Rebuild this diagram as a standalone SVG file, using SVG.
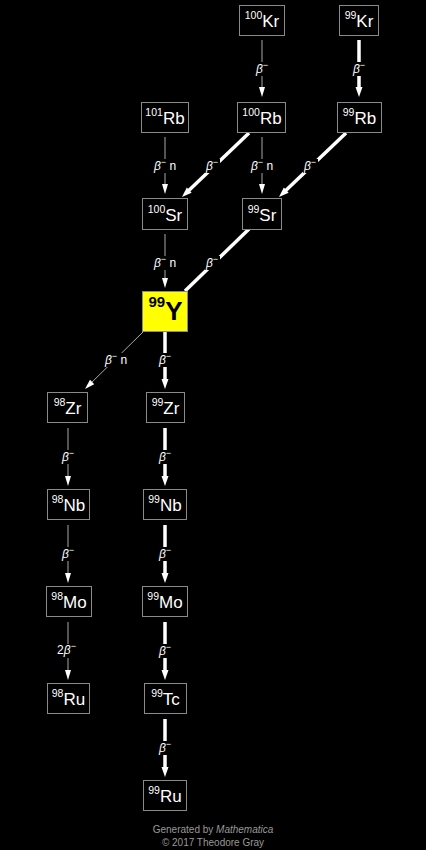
<svg xmlns="http://www.w3.org/2000/svg" width="426" height="850" viewBox="0 0 426 850">
<style>
.bg{fill:#000}
.box{fill:#000;stroke:#8a8a8a;stroke-width:1}
.ybox{fill:#ffff00;stroke:#8a8a8a;stroke-width:1}
.nt{font-family:"Liberation Sans",Arial,sans-serif;fill:#fff;text-anchor:middle}
.sup{font-size:10.5px}
.sym{font-size:17px}
.thin{stroke:#a8a8a8;stroke-width:1;fill:none;marker-end:url(#ah1)}
.thick{stroke:#fff;stroke-width:3.5;fill:none;marker-end:url(#ah2)}
.lbg{fill:#000}
.lt{font-family:"Liberation Sans",Arial,sans-serif;font-size:12px;fill:#fff;text-anchor:middle}
.ft{font-family:"Liberation Sans",Arial,sans-serif;font-size:10px;fill:#999;text-anchor:middle}
</style>
<defs>
<marker id="ah1" markerUnits="userSpaceOnUse" markerWidth="12" markerHeight="8" refX="1" refY="3" orient="auto" overflow="visible"><path d="M0,0 L10,3 L0,6 z" fill="#fff"/></marker>
<marker id="ah2" markerUnits="userSpaceOnUse" markerWidth="12" markerHeight="8" refX="1" refY="3.5" orient="auto" overflow="visible"><path d="M0,0 L10,3.5 L0,7 z" fill="#fff"/></marker>
</defs>
<rect class="bg" x="0" y="0" width="426" height="850"/>
<g id="connectors">
<line class="thin" x1="262" y1="40" x2="262" y2="88"/>
<line class="thick" x1="359" y1="40" x2="359" y2="88"/>
<line class="thin" x1="165" y1="137" x2="165" y2="185"/>
<line class="thick" x1="249" y1="133" x2="188.5" y2="190.8"/>
<line class="thin" x1="262" y1="137" x2="262" y2="185"/>
<line class="thick" x1="346" y1="133" x2="285.5" y2="190.8"/>
<line class="thin" x1="165" y1="234" x2="165" y2="279"/>
<line stroke="#fff" stroke-width="3.5" x1="249" y1="229" x2="185" y2="291"/>
<line class="thin" x1="143" y1="332" x2="91.4" y2="382.7"/>
<line class="thick" x1="165" y1="331" x2="165" y2="380"/>
<line class="thin" x1="68" y1="428" x2="68" y2="477"/>
<line class="thick" x1="165" y1="428" x2="165" y2="477"/>
<line class="thin" x1="68" y1="525" x2="68" y2="574"/>
<line class="thick" x1="165" y1="525" x2="165" y2="574"/>
<line class="thin" x1="68" y1="622" x2="68" y2="671"/>
<line class="thick" x1="165" y1="622" x2="165" y2="671"/>
<line class="thick" x1="165" y1="719" x2="165" y2="768"/>
<rect class="lbg" x="255" y="62" width="14" height="14"/>
<text class="lt" x="262" y="72.5"><tspan font-style="italic">β</tspan><tspan font-size="9" dy="-5">−</tspan></text>
<rect class="lbg" x="352" y="62" width="14" height="14"/>
<text class="lt" x="359" y="72.5"><tspan font-style="italic">β</tspan><tspan font-size="9" dy="-5">−</tspan></text>
<rect class="lbg" x="154" y="159" width="22" height="14"/>
<text class="lt" x="165" y="169.5"><tspan font-style="italic">β</tspan><tspan font-size="9" dy="-5">−</tspan><tspan dy="5"> n</tspan></text>
<rect class="lbg" x="205" y="159" width="15" height="14"/>
<text class="lt" x="212" y="169.5"><tspan font-style="italic">β</tspan><tspan font-size="9" dy="-5">−</tspan></text>
<rect class="lbg" x="251" y="159" width="22" height="14"/>
<text class="lt" x="262" y="169.5"><tspan font-style="italic">β</tspan><tspan font-size="9" dy="-5">−</tspan><tspan dy="5"> n</tspan></text>
<rect class="lbg" x="303" y="159" width="15" height="14"/>
<text class="lt" x="310" y="169.5"><tspan font-style="italic">β</tspan><tspan font-size="9" dy="-5">−</tspan></text>
<rect class="lbg" x="154" y="256" width="22" height="14"/>
<text class="lt" x="165" y="266.5"><tspan font-style="italic">β</tspan><tspan font-size="9" dy="-5">−</tspan><tspan dy="5"> n</tspan></text>
<rect class="lbg" x="205" y="256" width="15" height="14"/>
<text class="lt" x="212" y="266.5"><tspan font-style="italic">β</tspan><tspan font-size="9" dy="-5">−</tspan></text>
<rect class="lbg" x="104" y="353" width="24" height="14"/>
<text class="lt" x="116" y="363.5"><tspan font-style="italic">β</tspan><tspan font-size="9" dy="-5">−</tspan><tspan dy="5"> n</tspan></text>
<rect class="lbg" x="158" y="353" width="14" height="14"/>
<text class="lt" x="165" y="363.5"><tspan font-style="italic">β</tspan><tspan font-size="9" dy="-5">−</tspan></text>
<rect class="lbg" x="61" y="450" width="14" height="14"/>
<text class="lt" x="68" y="460.5"><tspan font-style="italic">β</tspan><tspan font-size="9" dy="-5">−</tspan></text>
<rect class="lbg" x="158" y="450" width="14" height="14"/>
<text class="lt" x="165" y="460.5"><tspan font-style="italic">β</tspan><tspan font-size="9" dy="-5">−</tspan></text>
<rect class="lbg" x="61" y="547" width="14" height="14"/>
<text class="lt" x="68" y="557.5"><tspan font-style="italic">β</tspan><tspan font-size="9" dy="-5">−</tspan></text>
<rect class="lbg" x="158" y="547" width="14" height="14"/>
<text class="lt" x="165" y="557.5"><tspan font-style="italic">β</tspan><tspan font-size="9" dy="-5">−</tspan></text>
<rect class="lbg" x="56" y="644" width="22" height="14"/>
<text class="lt" x="66.5" y="653.5">2<tspan font-style="italic">β</tspan><tspan font-size="9" dy="-5">−</tspan></text>
<rect class="lbg" x="158" y="644" width="14" height="14"/>
<text class="lt" x="165" y="654.5"><tspan font-style="italic">β</tspan><tspan font-size="9" dy="-5">−</tspan></text>
<rect class="lbg" x="158" y="741" width="14" height="14"/>
<text class="lt" x="165" y="751.5"><tspan font-style="italic">β</tspan><tspan font-size="9" dy="-5">−</tspan></text>
</g>
<g id="Kr100"><rect class="box" x="239.5" y="5.5" width="45" height="30"/><text class="nt" x="262" y="27"><tspan class="sup" dy="-8">100</tspan><tspan class="sym" dy="8">Kr</tspan></text></g>
<g id="Kr99"><rect class="box" x="339.5" y="5.5" width="39" height="30"/><text class="nt" x="359" y="27"><tspan class="sup" dy="-8">99</tspan><tspan class="sym" dy="8">Kr</tspan></text></g>
<g id="Rb101"><rect class="box" x="141.5" y="102.5" width="47" height="30"/><text class="nt" x="165" y="124"><tspan class="sup" dy="-8">101</tspan><tspan class="sym" dy="8">Rb</tspan></text></g>
<g id="Rb100"><rect class="box" x="237.5" y="102.5" width="48" height="30"/><text class="nt" x="262" y="124"><tspan class="sup" dy="-8">100</tspan><tspan class="sym" dy="8">Rb</tspan></text></g>
<g id="Rb99"><rect class="box" x="337.5" y="102.5" width="44" height="30"/><text class="nt" x="359.5" y="124"><tspan class="sup" dy="-8">99</tspan><tspan class="sym" dy="8">Rb</tspan></text></g>
<g id="Sr100"><rect class="box" x="142.5" y="198.5" width="45" height="31"/><text class="nt" x="165" y="221"><tspan class="sup" dy="-8">100</tspan><tspan class="sym" dy="8">Sr</tspan></text></g>
<g id="Sr99"><rect class="box" x="242.5" y="198.5" width="39" height="31"/><text class="nt" x="262" y="221"><tspan class="sup" dy="-8">99</tspan><tspan class="sym" dy="8">Sr</tspan></text></g>
<g id="Y99"><rect class="ybox" x="142.5" y="291.5" width="45" height="40"/><text font-family="Liberation Sans,Arial,sans-serif" font-weight="bold" fill="#000" text-anchor="middle" x="165.5" y="320"><tspan font-size="15" dy="-13">99</tspan><tspan font-size="26" dy="13">Y</tspan></text></g>
<g id="Zr98"><rect class="box" x="47.5" y="392.5" width="40" height="30"/><text class="nt" x="67.5" y="414"><tspan class="sup" dy="-8">98</tspan><tspan class="sym" dy="8">Zr</tspan></text></g>
<g id="Zr99"><rect class="box" x="146.5" y="392.5" width="38" height="30"/><text class="nt" x="165.5" y="414"><tspan class="sup" dy="-8">99</tspan><tspan class="sym" dy="8">Zr</tspan></text></g>
<g id="Nb98"><rect class="box" x="47.5" y="489.5" width="42" height="30"/><text class="nt" x="68.5" y="511"><tspan class="sup" dy="-8">98</tspan><tspan class="sym" dy="8">Nb</tspan></text></g>
<g id="Nb99"><rect class="box" x="143.5" y="489.5" width="43" height="30"/><text class="nt" x="165" y="511"><tspan class="sup" dy="-8">99</tspan><tspan class="sym" dy="8">Nb</tspan></text></g>
<g id="Mo98"><rect class="box" x="46.5" y="586.5" width="45" height="30"/><text class="nt" x="69" y="608"><tspan class="sup" dy="-8">98</tspan><tspan class="sym" dy="8">Mo</tspan></text></g>
<g id="Mo99"><rect class="box" x="142.5" y="586.5" width="45" height="30"/><text class="nt" x="165" y="608"><tspan class="sup" dy="-8">99</tspan><tspan class="sym" dy="8">Mo</tspan></text></g>
<g id="Ru98"><rect class="box" x="47.5" y="683.5" width="42" height="30"/><text class="nt" x="68.5" y="705"><tspan class="sup" dy="-8">98</tspan><tspan class="sym" dy="8">Ru</tspan></text></g>
<g id="Tc99"><rect class="box" x="144.5" y="683.5" width="42" height="30"/><text class="nt" x="165.5" y="705"><tspan class="sup" dy="-8">99</tspan><tspan class="sym" dy="8">Tc</tspan></text></g>
<g id="Ru99"><rect class="box" x="143.5" y="780.5" width="43" height="30"/><text class="nt" x="165" y="802"><tspan class="sup" dy="-8">99</tspan><tspan class="sym" dy="8">Ru</tspan></text></g>
<text class="ft" x="213" y="833">Generated by <tspan font-style="italic">Mathematica</tspan></text>
<text class="ft" x="213" y="846">© 2017 Theodore Gray</text>
</svg>
